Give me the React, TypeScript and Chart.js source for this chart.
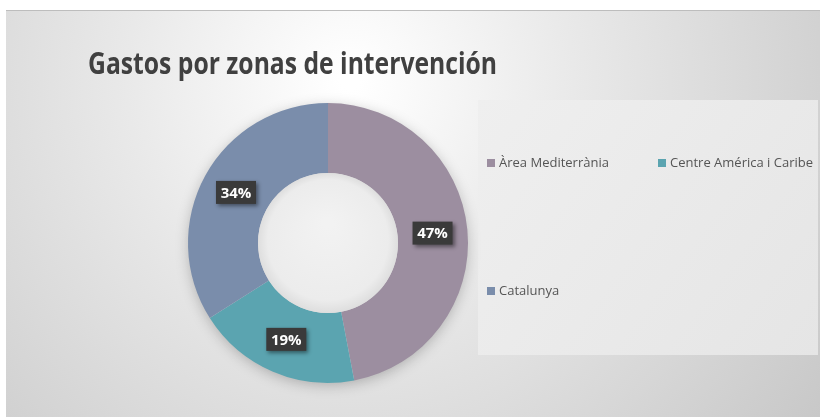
import React, { useEffect, useRef } from "react";
import { Chart, registerables } from "chart.js";

Chart.register(...registerables);

const title = "Gastos por zonas de intervención";
const categories = ["Àrea Mediterrània", "Centre América i Caribe", "Catalunya"];
const values = [47, 19, 34];
const colors = ["#9C8EA0", "#5BA4B0", "#7A8DAB"];

const W = 820;
const H = 417;

const backgroundPlugin = {
  id: "bgPanel",
  beforeDraw(chart: any) {
    const ctx = chart.ctx as CanvasRenderingContext2D;
    ctx.save();
    ctx.fillStyle = "#ffffff";
    ctx.fillRect(0, 0, W, H);
    const g = ctx.createRadialGradient(350, 80, 10, 350, 80, 620);
    g.addColorStop(0, "#ffffff");
    g.addColorStop(0.35, "#e9e9e9");
    g.addColorStop(1, "#c4c4c4");
    ctx.fillStyle = g;
    ctx.fillRect(6, 10, W - 6, H - 10);
    ctx.strokeStyle = "#bdbdbd";
    ctx.lineWidth = 1;
    ctx.beginPath();
    ctx.moveTo(6, 10.5);
    ctx.lineTo(W, 10.5);
    ctx.stroke();
    // legend panel
    const lg = ctx.createLinearGradient(478, 100, 818, 355);
    lg.addColorStop(0, "#efefef");
    lg.addColorStop(1, "#e5e5e5");
    ctx.fillStyle = lg;
    ctx.fillRect(478, 100, 340, 255);
    // title
    ctx.fillStyle = "#404040";
    ctx.font = "700 30px 'Open Sans', sans-serif";
    ctx.textBaseline = "alphabetic";
    ctx.textAlign = "left";
    ctx.fillText(title, 88, 74, 409);
    ctx.restore();
  },
  beforeDatasetsDraw(chart: any) {
    const ctx = chart.ctx as CanvasRenderingContext2D;
    const arc = chart.getDatasetMeta(0).data[0];
    if (!arc) return;
    const { x, y, outerRadius } = arc.getProps(["x", "y", "outerRadius"], true);
    ctx.save();
    ctx.shadowColor = "rgba(0,0,0,0.25)";
    ctx.shadowBlur = 14;
    ctx.shadowOffsetY = 3;
    ctx.fillStyle = "#d8d8d8";
    ctx.beginPath();
    ctx.arc(x, y, outerRadius - 1, 0, Math.PI * 2);
    ctx.fill();
    ctx.restore();
  },
  afterDatasetsDraw(chart: any) {
    const ctx = chart.ctx as CanvasRenderingContext2D;
    const meta = chart.getDatasetMeta(0);
    const arc0 = meta.data[0];
    const { x, y, innerRadius } = arc0.getProps(["x", "y", "innerRadius"], true);
    // hole
    ctx.save();
    const hg = ctx.createRadialGradient(x, y - 20, 5, x, y, innerRadius);
    hg.addColorStop(0, "#f2f2f2");
    hg.addColorStop(0.85, "#ececec");
    hg.addColorStop(1, "#dedede");
    ctx.fillStyle = hg;
    ctx.beginPath();
    ctx.arc(x, y, innerRadius, 0, Math.PI * 2);
    ctx.fill();
    ctx.restore();
    // data labels
    const total = values.reduce((a, b) => a + b, 0);
    meta.data.forEach((el: any, i: number) => {
      const p = el.tooltipPosition(true);
      const txt = Math.round((values[i] / total) * 100) + "%";
      const bw = 40;
      const bh = 23;
      ctx.save();
      ctx.shadowColor = "rgba(0,0,0,0.45)";
      ctx.shadowBlur = 4;
      ctx.shadowOffsetX = 2;
      ctx.shadowOffsetY = 2;
      ctx.fillStyle = "#3a3a3a";
      ctx.fillRect(p.x - bw / 2, p.y - bh / 2, bw, bh);
      ctx.restore();
      ctx.save();
      ctx.font = "bold 15px 'Open Sans', sans-serif";
      ctx.fillStyle = "#ffffff";
      ctx.textAlign = "center";
      ctx.textBaseline = "middle";
      ctx.fillText(txt, p.x, p.y + 1, 32);
      ctx.restore();
    });
    // legend
    const legendPos = [
      [487, 163],
      [658, 163],
      [487, 291],
    ];
    categories.forEach((c, i) => {
      const [lx, ly] = legendPos[i];
      ctx.save();
      ctx.fillStyle = colors[i];
      ctx.fillRect(lx, ly - 4, 8, 8);
      ctx.fillStyle = "#555555";
      ctx.font = "13px 'Open Sans', sans-serif";
      ctx.textBaseline = "middle";
      ctx.textAlign = "left";
      ctx.fillText(c, lx + 12, ly);
      ctx.restore();
    });
  },
};

export default function App() {
  const ref = useRef<HTMLCanvasElement | null>(null);
  useEffect(() => {
    document.body.style.margin = "0";
    if (!ref.current) return;
    const chart = new Chart(ref.current, {
      type: "doughnut",
      data: {
        labels: categories,
        datasets: [
          {
            data: values,
            backgroundColor: colors,
            borderWidth: 0,
          },
        ],
      },
      options: {
        responsive: false,
        animation: false,
        cutout: "50%",
        layout: { padding: { left: 188, right: 352, top: 103, bottom: 34 } },
        plugins: {
          legend: { display: false },
          title: { display: false },
          tooltip: { enabled: false },
        },
      },
      plugins: [backgroundPlugin],
    });
    return () => chart.destroy();
  }, []);
  return <canvas ref={ref} width={W} height={H} style={{ display: "block" }} />;
}
